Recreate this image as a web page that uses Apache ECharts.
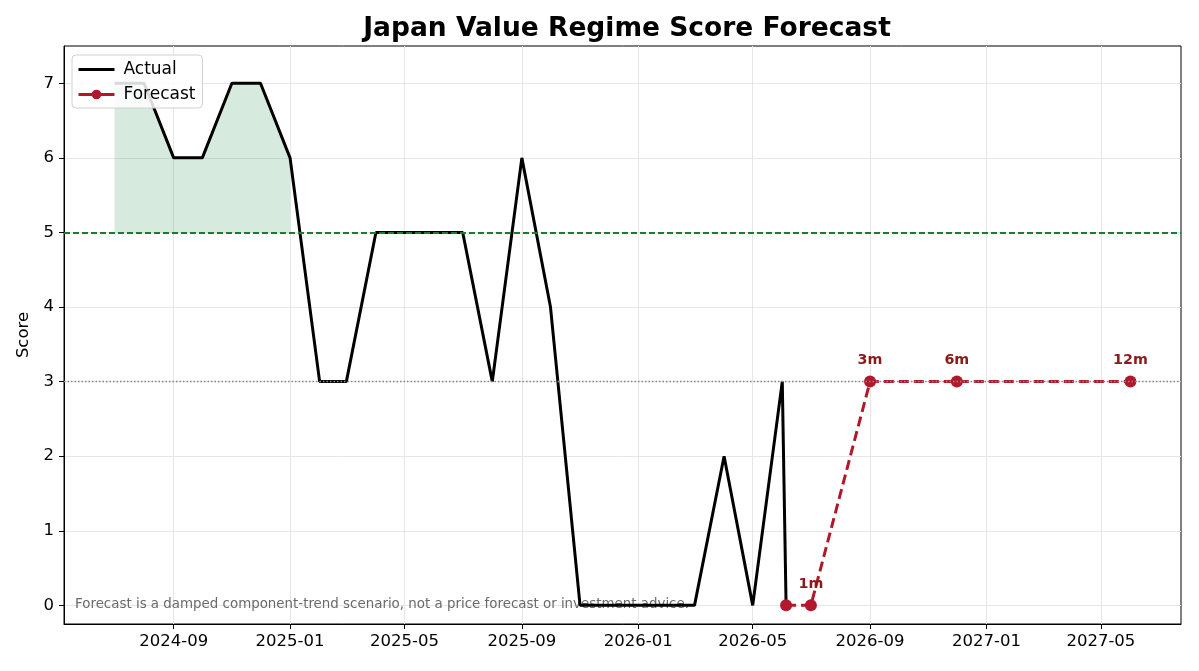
<!DOCTYPE html>
<html>
<head>
<meta charset="utf-8">
<script src="https://cdn.jsdelivr.net/npm/echarts@6/dist/echarts.min.js"></script>
<style>
  html, body { margin: 0; padding: 0; background: #fff; }
  #chart { width: 1199px; height: 671px; }
</style>
</head>
<body>
<div id="chart"></div>
<script>
// actual monthly regime score
var actualDates = [
  '2024-07-01', '2024-08-01', '2024-09-01', '2024-10-01', '2024-11-01', '2024-12-01',
  '2025-01-01', '2025-02-01', '2025-03-01', '2025-04-01', '2025-05-01', '2025-06-01',
  '2025-07-01', '2025-08-01', '2025-09-01', '2025-10-01', '2025-11-01', '2025-12-01',
  '2026-01-01', '2026-02-01', '2026-03-01', '2026-04-01', '2026-05-01', '2026-06-01',
  '2026-06-05'
];
var actualValues = [7, 7, 6, 6, 7, 7, 6, 3, 3, 5, 5, 5, 5, 3, 6, 4, 0, 0, 0, 0, 0, 2, 0, 3, 0];

// shaded span above the 5 threshold
var fillDates = ['2024-07-01', '2024-08-01', '2024-09-01', '2024-10-01', '2024-11-01', '2024-12-01', '2025-01-01'];
var fillValues = [7, 7, 6, 6, 7, 7, 6];

// forecast path
var forecastDates = ['2026-06-05', '2026-07-01', '2026-09-01', '2026-12-01', '2027-06-01'];
var forecastValues = [0, 0, 3, 3, 3];
var forecastLabels = ['', '1m', '3m', '6m', '12m'];

var xTicks = ['2024-09-01', '2025-01-01', '2025-05-01', '2025-09-01', '2026-01-01', '2026-05-01', '2026-09-01', '2027-01-01', '2027-05-01'];
var yTicks = [0, 1, 2, 3, 4, 5, 6, 7];

var upperLine = 5;
var neutralLine = 3;

// days since epoch, UTC, so the axis is a plain value axis
function ts(s) {
  var p = s.split('-');
  return Date.UTC(+p[0], +p[1] - 1, +p[2]) / 86400000;
}
function fmt(v) {
  var d = new Date(Math.round(v) * 86400000);
  var m = d.getUTCMonth() + 1;
  return d.getUTCFullYear() + '-' + (m < 10 ? '0' + m : m);
}
function pairs(dates, vals) {
  return dates.map(function (d, i) { return [ts(d), vals[i]]; });
}

var FONT = 'DejaVu Sans';
var chart = echarts.init(document.getElementById('chart'));

chart.setOption({
  backgroundColor: '#fff',
  animation: false,
  textStyle: { fontFamily: FONT },
  title: {
    text: 'Japan Value Regime Score Forecast',
    left: 622,
    textAlign: 'center',
    top: 11,
    textStyle: { fontFamily: FONT, fontSize: 26.5, fontWeight: 'bold', color: '#000' }
  },
  legend: {
    orient: 'vertical',
    left: 72,
    top: 55,
    padding: [6, 7, 5, 5],
    itemWidth: 36,
    itemHeight: 12,
    itemGap: 8,
    borderColor: '#d0d0d0',
    borderWidth: 1,
    borderRadius: 4,
    backgroundColor: 'rgba(255,255,255,0.85)',
    textStyle: { fontFamily: FONT, fontSize: 17, color: '#000', padding: [0, 0, 0, 4] },
    data: [
      { name: 'Actual', icon: 'path://M0,0 L36,0 L36,3 L0,3 Z' },
      { name: 'Forecast', lineStyle: { type: 'solid', width: 3 } }
    ]
  },
  grid: {
    left: 64,
    right: 18,
    top: 46,
    bottom: 47,
    show: true,
    borderColor: '#000',
    borderWidth: 1
  },
  xAxis: {
    type: 'value',
    min: ts('2024-05-09'),
    max: ts('2027-07-24'),
    axisLine: { show: true, onZero: false, lineStyle: { color: '#000' } },
    axisTick: { show: true, length: 5, lineStyle: { color: '#000' }, customValues: xTicks.map(ts) },
    axisLabel: {
      customValues: xTicks.map(ts),
      fontFamily: FONT,
      fontSize: 16.5,
      color: '#000',
      margin: 9,
      formatter: fmt
    },
    splitLine: { show: true, lineStyle: { color: '#e6e6e6', width: 1 } }
  },
  yAxis: {
    type: 'value',
    min: -0.25,
    max: 7.5,
    name: 'Score',
    nameLocation: 'middle',
    nameGap: 27,
    nameTextStyle: { fontFamily: FONT, fontSize: 16.5, color: '#000' },
    axisLine: { show: true, lineStyle: { color: '#000' } },
    axisTick: { show: true, length: 5, lineStyle: { color: '#000' }, customValues: yTicks },
    axisLabel: { customValues: yTicks, fontFamily: FONT, fontSize: 16.5, color: '#000', margin: 10 },
    splitLine: { show: true, lineStyle: { color: '#e6e6e6', width: 1 } }
  },
  graphic: [{
    type: 'text',
    left: 75,
    top: 598,
    z: 1,
    style: {
      text: 'Forecast is a damped component-trend scenario, not a price forecast or investment advice.',
      fill: '#6a6a6a',
      font: '13.4px "DejaVu Sans"'
    }
  }],
  series: [
    {
      name: 'fill',
      type: 'line',
      data: pairs(fillDates, fillValues),
      symbol: 'none',
      silent: true,
      lineStyle: { width: 0 },
      areaStyle: { origin: upperLine, color: 'rgba(69,164,105,0.22)', opacity: 1 },
      z: 1
    },
    {
      name: 'Actual',
      type: 'line',
      data: pairs(actualDates, actualValues),
      symbol: 'none',
      color: '#000',
      lineStyle: { color: '#000', width: 3 },
      z: 3,
      markLine: {
        silent: true,
        symbol: 'none',
        label: { show: false },
        data: [
          { yAxis: upperLine, lineStyle: { color: '#1b7a36', width: 1.8, type: [6, 3] } },
          { yAxis: neutralLine, lineStyle: { color: '#888', width: 1.3, type: [1.5, 2] } }
        ]
      }
    },
    {
      name: 'Forecast',
      type: 'line',
      data: pairs(forecastDates, forecastValues),
      symbol: 'circle',
      symbolSize: 12,
      color: '#b2182b',
      itemStyle: { color: '#b2182b' },
      lineStyle: { color: '#b2182b', width: 3, type: [10, 5] },
      z: 4,
      label: {
        show: true,
        position: 'top',
        distance: 8,
        fontFamily: FONT,
        fontSize: 14.3,
        fontWeight: 'bold',
        color: '#8b1a1a',
        formatter: function (p) { return forecastLabels[p.dataIndex]; }
      }
    }
  ]
});
</script>
</body>
</html>
